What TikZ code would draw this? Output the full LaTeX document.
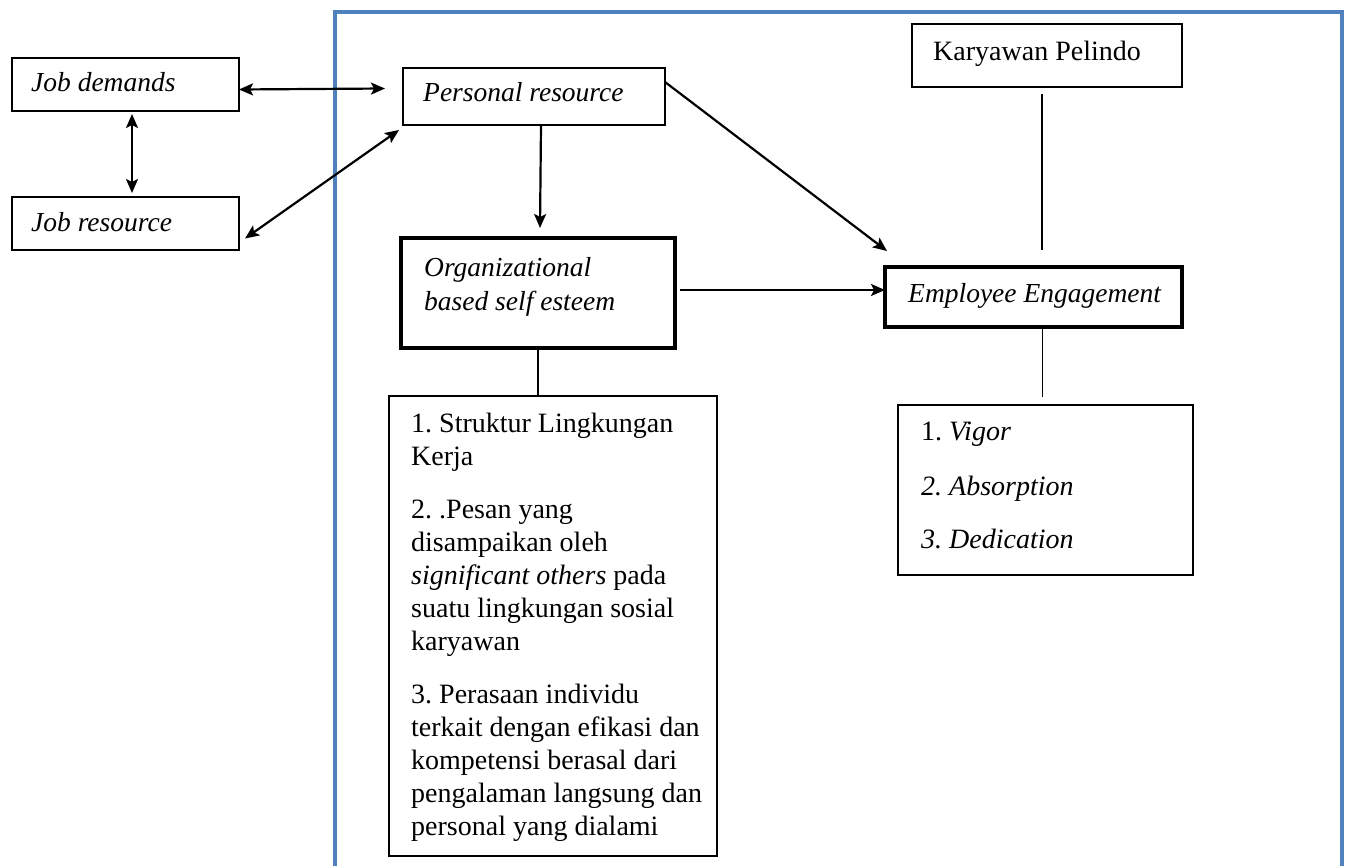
\documentclass[tikz,border=0pt]{standalone}
\usepackage{fontspec}
\setmainfont{Liberation Serif}
\frenchspacing
\usetikzlibrary{arrows.meta}
\definecolor{frameblue}{RGB}{79,129,189}
\begin{document}
\begin{tikzpicture}[x=1pt,y=-1pt,
  box/.style={draw, line width=1.3pt, inner sep=0pt, outer sep=0pt, anchor=north west},
  thickbox/.style={box, line width=4.5pt},
  lbl/.style={anchor=base west, inner sep=0pt, font=\fontsize{27.5}{33}\selectfont\itshape},
  txt/.style={anchor=base west, inner sep=0pt, font=\fontsize{28}{34}\selectfont},
  tip/.tip={Stealth[length=14pt,width=12pt,inset=3pt]},
  arr/.style={line width=2.2pt, -tip},
  dbl/.style={line width=2.2pt, tip-tip},
  link/.style={line width=1.4pt}]
\useasboundingbox (0,0) rectangle (1349,866);

% blue frame (open at the bottom)
\draw[frameblue, line width=4.5pt] (335,870) -- (335,12) -- (1342,12) -- (1342,870);

% boxes
\node[box, minimum width=227pt, minimum height=53pt] (jd) at (12,58) {};
\node[box, minimum width=227pt, minimum height=53pt] (jr) at (12,197) {};
\node[box, minimum width=262pt, minimum height=57pt] (pr) at (403,68) {};
\node[thickbox, minimum width=274pt, minimum height=110pt] (ob) at (401,238) {};
\node[thickbox, minimum width=297pt, minimum height=60pt] (ee) at (885,267) {};
\node[box, minimum width=270pt, minimum height=63pt] (kp) at (912,24) {};
\node[box, minimum width=328pt, minimum height=460pt] (ls) at (389,396) {};
\node[box, minimum width=295pt, minimum height=170pt] (vg) at (898,405) {};

% labels
\node[lbl] (jdt) at (31,92) {Job demands};
\node[lbl] (jrt) at (31,232) {Job resource};
\node[lbl] (prt) at (423,102) {Personal resource};
\node[lbl] (ob1) at (424,277) {Organizational};
\node[lbl] (ob2) at (424,311) {based self esteem};
\node[lbl] (eet) at (908,303) {Employee Engagement};
\node[txt] (kpt) at (933,61) {Karyawan Pelindo};

% list of OBSE indicators
\foreach \yy/\tt [count=\i] in {432/{1. Struktur Lingkungan}, 465/{Kerja},
  518/{2. .Pesan yang}, 551/{disampaikan oleh}, 584/{\textit{significant others} pada},
  617/{suatu lingkungan sosial}, 650/{karyawan},
  703/{3. Perasaan individu}, 736/{terkait dengan efikasi dan},
  769/{kompetensi berasal dari}, 802/{pengalaman langsung dan}, 835/{personal yang dialami}}
  \node[txt] (l\i) at (411,\yy) {\tt};

% list of engagement dimensions
\node[txt] (v1) at (921,440) {1. \textit{Vigor}};
\node[txt] (v2) at (921,495) {\textit{2. Absorption}};
\node[txt] (v3) at (921,548) {\textit{3. Dedication}};

% connectors
\draw[dbl] ([yshift=-5pt]jd.east) -- ([xshift=-18pt,yshift=8pt]pr.west);
\draw[dbl] ([xshift=6.5pt,yshift=-3pt]jd.south) -- ([xshift=6.5pt,yshift=4pt]jr.north);
\draw[dbl] ([xshift=6pt,yshift=-15pt]jr.east) -- ([xshift=-4pt,yshift=-5pt]pr.south west);
\draw[arr] ([xshift=7pt]pr.south) -- ([xshift=2pt,yshift=10pt]ob.north);
\draw[arr] ([yshift=-14pt]pr.north east) -- ([xshift=2pt,yshift=16pt]ee.north west);
\draw[arr] ([xshift=5pt,yshift=3pt]ob.east) -- ([yshift=7pt]ee.west);
\draw[link] (ob.south) -- (ob.south |- ls.north);
\draw[link] ([xshift=-5pt,yshift=-7pt]kp.south) -- ([xshift=-5pt,yshift=17pt]kp.south |- ee.north);
\draw[link] ([xshift=9pt]ee.south) -- ([xshift=9pt,yshift=8pt]ee.south |- vg.north);
\end{tikzpicture}
\end{document}
